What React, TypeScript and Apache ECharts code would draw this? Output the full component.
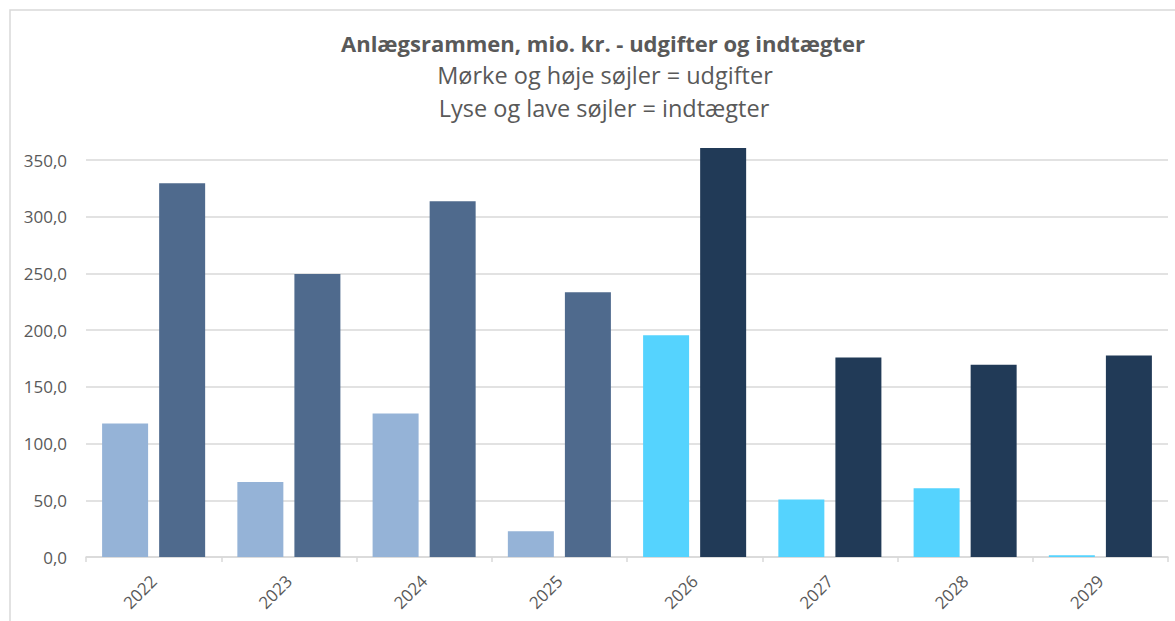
import React, { useEffect, useRef } from "react";
import * as echarts from "echarts";

const years = ["2022", "2023", "2024", "2025", "2026", "2027", "2028", "2029"];
const indtaegter = [117.7, 66.2, 126.5, 22.7, 195.6, 50.6, 60.6, 1.5];
const udgifter = [329.4, 249.4, 313.6, 233.5, 360.6, 175.9, 169.4, 177.7];
const yTicks = [0, 50, 100, 150, 200, 250, 300, 350];
const firstNewYear = 2026;

const titleText = "Anlægsrammen, mio. kr. - udgifter og indtægter";
const subLine1 = "Mørke og høje søjler = udgifter";
const subLine2 = "Lyse og lave søjler = indtægter";

const LIGHT_OLD = "#95B3D7";
const DARK_OLD = "#4F6A8D";
const LIGHT_NEW = "#55D3FE";
const DARK_NEW = "#213A57";
const FONT = "'Open Sans', 'Noto Sans', sans-serif";
const TXT = "#595959";

export default function App() {
  const ref = useRef<HTMLDivElement>(null);
  useEffect(() => {
    if (!ref.current) return;
    const chart = echarts.init(ref.current, null, { renderer: "svg" });
    const isNew = (i: number) => Number(years[i]) >= firstNewYear;
    chart.setOption({
      animation: false,
      backgroundColor: "#ffffff",
      textStyle: { fontFamily: FONT },
      title: [
        {
          text: titleText,
          left: 598,
          textAlign: "center",
          top: 25,
          textStyle: { fontFamily: FONT, fontSize: 22, fontWeight: "bold", color: TXT, lineHeight: 26 },
        },
        {
          text: subLine1,
          left: 600,
          textAlign: "center",
          top: 56,
          textStyle: { fontFamily: FONT, fontSize: 23.5, fontWeight: "normal", color: TXT, lineHeight: 28 },
        },
        {
          text: subLine2,
          left: 599,
          textAlign: "center",
          top: 89,
          textStyle: { fontFamily: FONT, fontSize: 23.5, fontWeight: "normal", color: TXT, lineHeight: 28 },
        },
      ],
      graphic: [
        {
          type: "rect",
          shape: { x: 10, y: 10, width: 1400, height: 900 },
          style: { fill: "none", stroke: "#D9D9D9", lineWidth: 1.5 },
          silent: true,
        },
      ],
      grid: { left: 86, right: 7, top: 160, bottom: 64, containLabel: false },
      xAxis: {
        type: "category",
        data: years,
        axisLine: { show: true, lineStyle: { color: "#D9D9D9", width: 1.5 } },
        axisTick: { show: true, length: 5, lineStyle: { color: "#D9D9D9", width: 1.5 } },
        axisLabel: { rotate: 45, fontSize: 17, color: TXT, fontFamily: FONT, margin: 21 },
        splitLine: { show: false },
      },
      yAxis: {
        type: "value",
        min: yTicks[0],
        max: yTicks[yTicks.length - 1],
        interval: 50,
        axisLine: { show: false },
        axisTick: { show: false },
        axisLabel: {
          fontSize: 17,
          color: TXT,
          fontFamily: FONT,
          margin: 19,
          formatter: (v: number) => v.toFixed(1).replace(".", ","),
        },
        splitLine: { show: true, lineStyle: { color: "#D9D9D9", width: 1.5 } },
      },
      series: [
        {
          name: "Indtægter",
          type: "bar",
          clip: false,
          barWidth: 46,
          barGap: "24%",
          data: indtaegter.map((v, i) => ({
            value: v,
            itemStyle: { color: isNew(i) ? LIGHT_NEW : LIGHT_OLD },
          })),
        },
        {
          name: "Udgifter",
          type: "bar",
          clip: false,
          barWidth: 46,
          barGap: "24%",
          data: udgifter.map((v, i) => ({
            value: v,
            itemStyle: { color: isNew(i) ? DARK_NEW : DARK_OLD },
          })),
        },
      ],
    });
    return () => chart.dispose();
  }, []);
  return (
    <div
      ref={ref}
      style={{ position: "absolute", left: 0, top: 0, width: 1175, height: 621 }}
    />
  );
}
